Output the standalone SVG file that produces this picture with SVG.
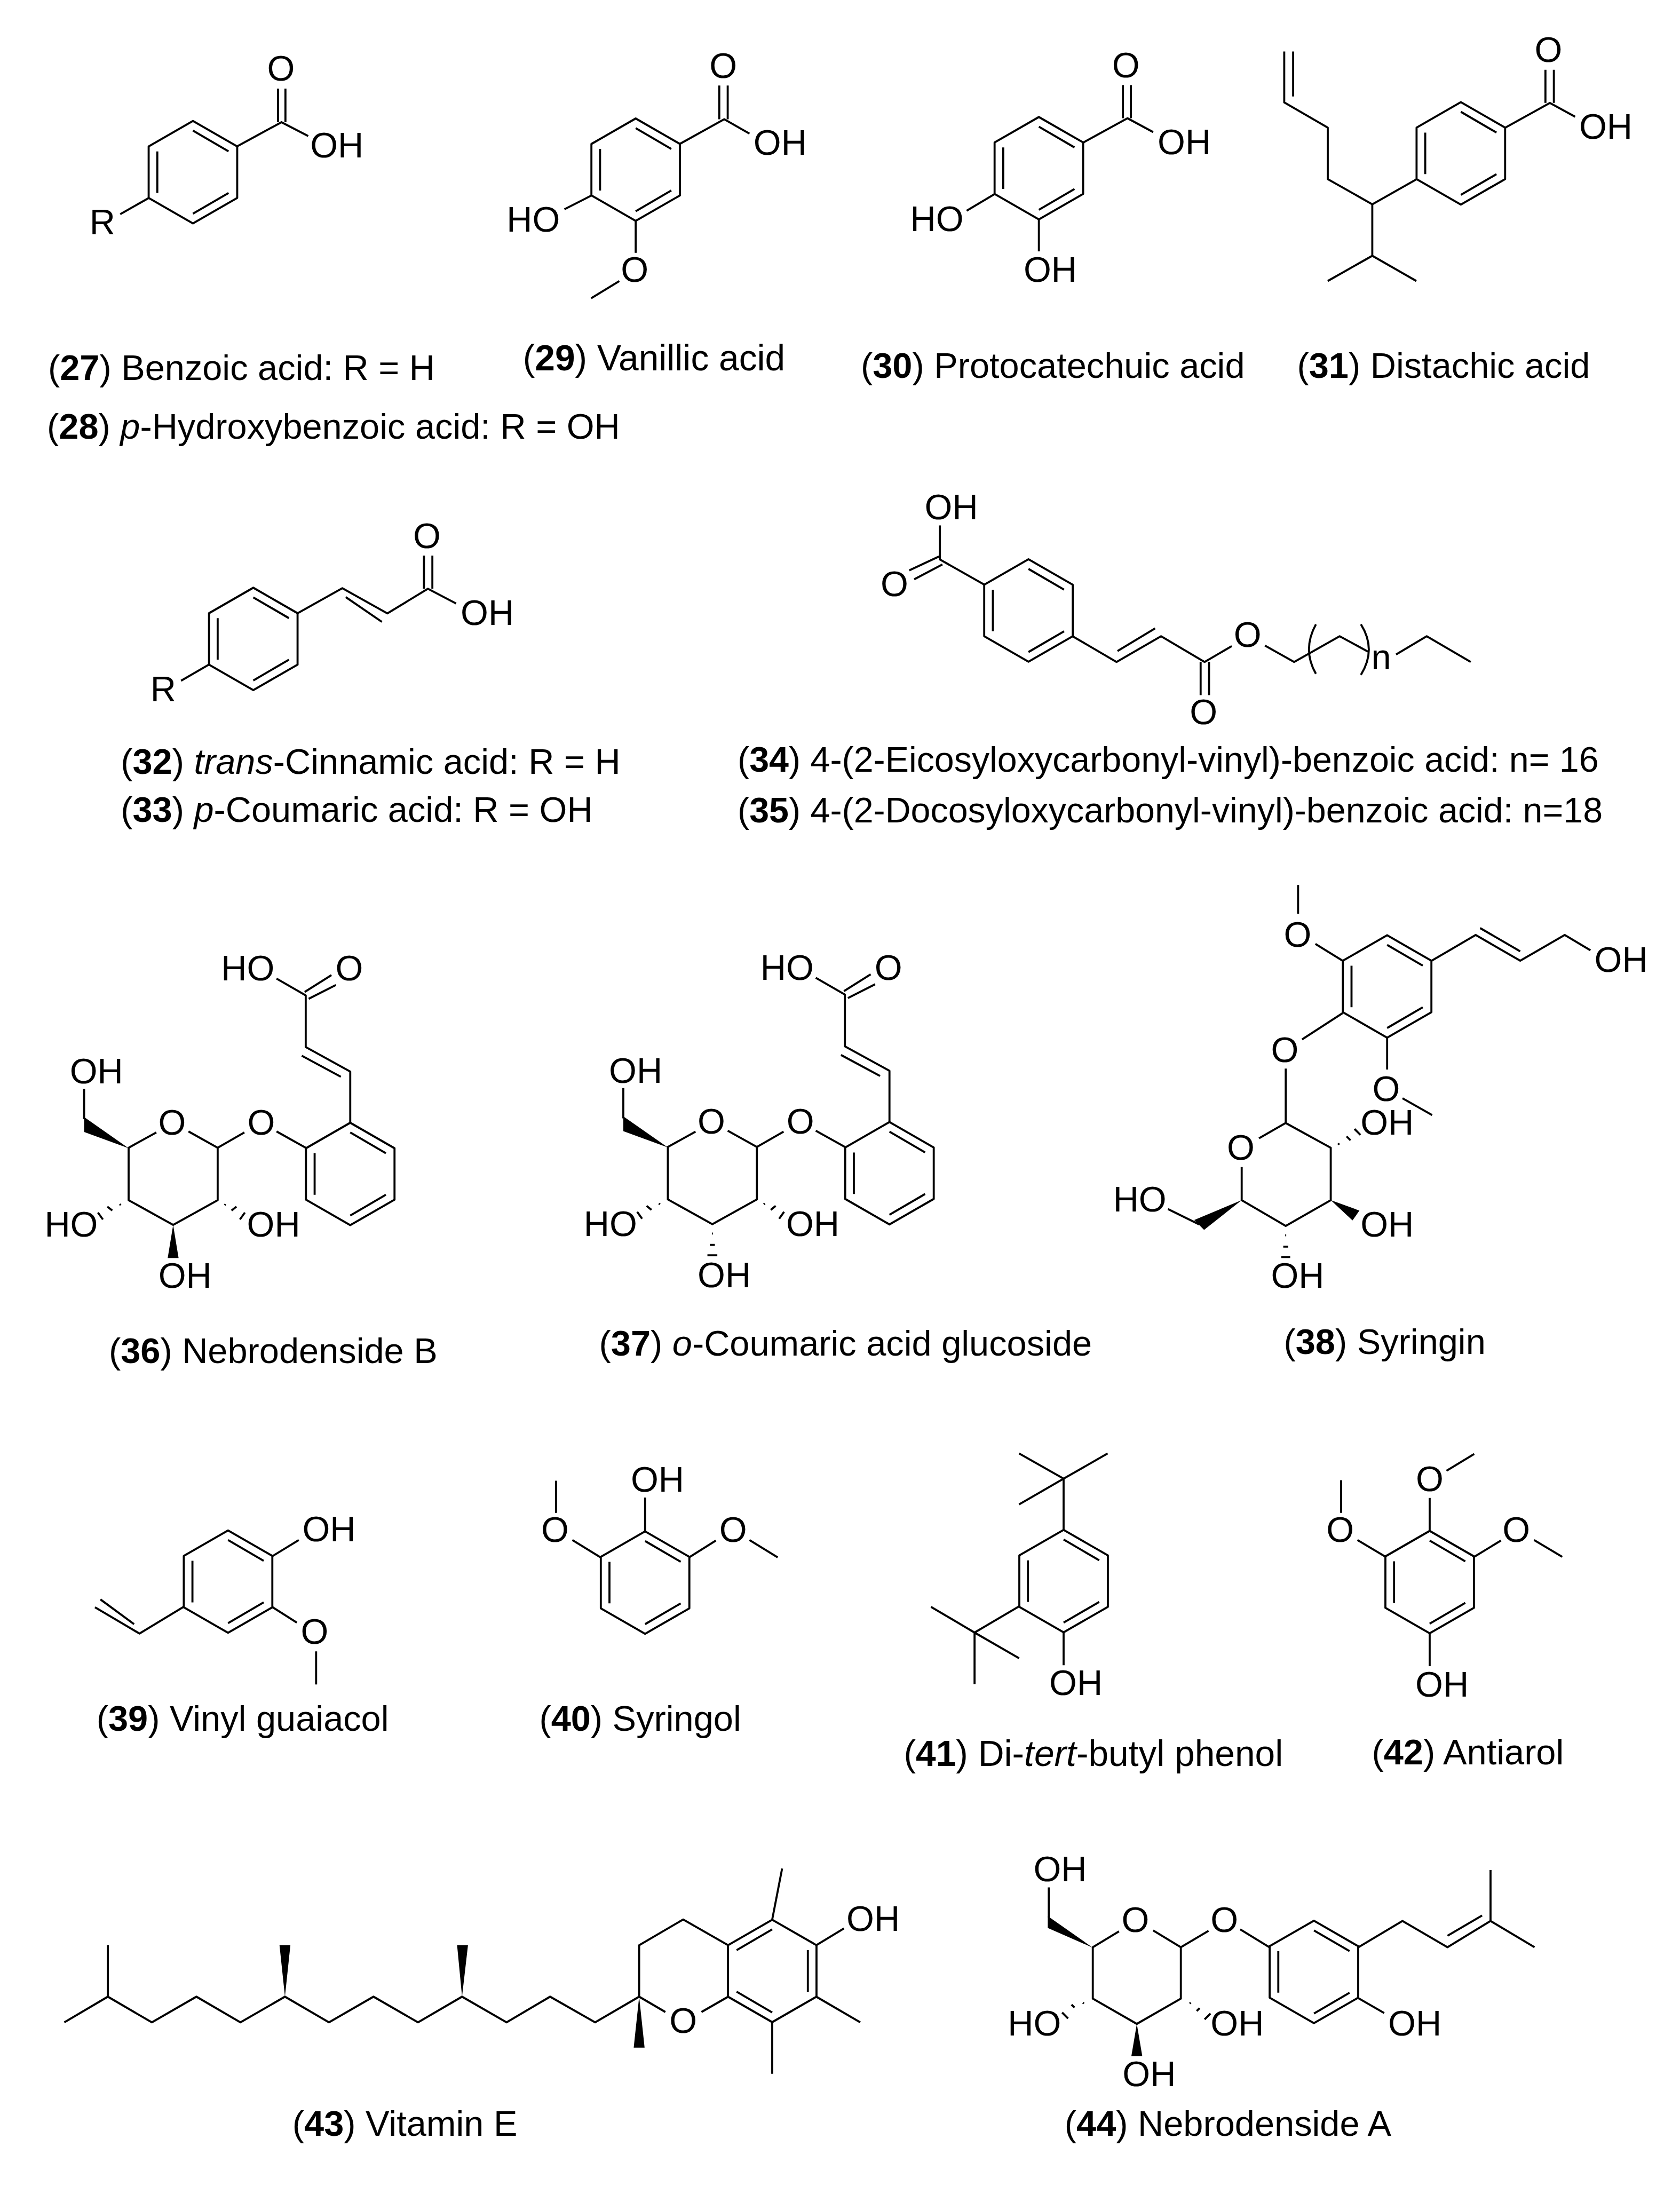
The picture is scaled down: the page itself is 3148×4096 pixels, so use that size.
<svg xmlns="http://www.w3.org/2000/svg" xmlns:xlink="http://www.w3.org/1999/xlink" width="3148" height="4096" viewBox="0 0 3148 4096">
<style>
.b{fill:none;stroke:#000;stroke-width:4.1;stroke-linejoin:round}
.w{fill:#000;stroke:none}
text{font-family:"Liberation Sans",Arial,sans-serif;font-size:72px;fill:#000}
.c{font-size:72px}
.s{font-size:71.6px}
.l{font-size:73px}
.m{text-anchor:middle}
.n{font-weight:bold}
.i{font-style:italic}
</style>
<defs>
<g id="ring1" class="b"><path d="M0-103.5L89.500-52V52L0 103.5L-89.500 52V-52Z"/><path d="M-72-42V42M0-84L72-42M72 42L0 84"/></g>
<g id="ring2" class="b"><path d="M0-103.5L89.500-52V52L0 103.5L-89.500 52V-52Z"/><path d="M72-42V42M0-84L-72-42M-72 42L0 84"/></g>
</defs>
<rect width="3148" height="4096" fill="#fff"/>
<g transform="scale(.92697)">

<g id="m27">
<use href="#ring1" x="390" y="348"/>
<path class="b" d="M479 296L569 247L623 275M562 179V247M577 179V247M301 400L243 433"/>
<text class="m" x="568" y="163">O</text><text x="627" y="318">OH</text><text x="181" y="474">R</text>
</g>
<g id="m29">
<use href="#ring1" x="1285" y="343"/>
<path class="b" d="M1374 291L1464 241L1515 270M1454 173V241M1471 173V241M1196 395L1141 423M1285 447V511M1252 568L1195 603"/>
<text class="m" x="1462" y="158">O</text><text x="1523" y="313">OH</text><text x="1024" y="468">HO</text><text class="m" x="1283" y="570">O</text>
</g>
<g id="m30">
<use href="#ring1" x="2100" y="340"/>
<path class="b" d="M2190 288L2279 239L2331 267M2270 172V239M2286 172V239M2011 392L1954 426M2100 443V508"/>
<text class="m" x="2276" y="156">O</text><text x="2340" y="312">OH</text><text x="1840" y="467">HO</text><text x="2069" y="570">OH</text>
</g>
<g id="m31">
<use href="#ring1" x="2953" y="310"/>
<path class="b" d="M3043 258L3133 208L3184 236M3124 141V208M3141 141V208M2864 362L2774 413L2684 362V258L2596 207V104M2614 104V195M2774 413V517L2684 568M2774 517L2863 568"/>
<text class="m" x="3130" y="125">O</text><text x="3192" y="281">OH</text>
</g>

<g id="m32">
<use href="#ring1" x="512" y="1291.5"/>
<path class="b" d="M601 1240L692 1189L783 1240L865 1190L922 1220M699 1207L772 1257M857 1123V1190M874 1123V1190M423 1343L366 1376"/>
<text class="m" x="863" y="1108">O</text><text x="931" y="1263">OH</text><text x="304" y="1418">R</text>
</g>
<g id="m34">
<use href="#ring1" x="2079" y="1234"/>
<path class="b" d="M1990 1182L1900 1131V1062M1838 1153L1898 1125M1848 1171L1905 1141M2168 1286L2257 1338L2347 1286L2435 1338L2490 1306M2259 1316L2335 1270M2427 1338V1405M2444 1338V1405M2557 1305L2616 1338L2708 1286L2765 1317M2822 1323L2884 1286L2973 1338M2660 1262Q2632 1313 2660 1362M2751 1262Q2783 1313 2751 1364"/>
<text x="1869" y="1050">OH</text><text class="m" x="1808" y="1205">O</text><text class="m" x="2433" y="1464">O</text><text class="m" x="2522" y="1308">O</text><text x="2772" y="1353">n</text>
</g>

<g id="m36">
<use href="#ring1" x="708" y="2373"/>
<path class="b" d="M316 2289L260 2320V2426L350 2476L440 2426V2320L381 2287M440 2320L494 2289M559 2287L618 2320M708 2271V2166L618 2116.500V2012L559 1978M610 2134L689 2176.500M616 2005L670 1971M624 2019L679 1991M170 2262V2201"/>
<path class="w" d="M260 2321L170 2288V2258ZM350 2476L361 2543H339Z"/>
<path class="b" d="M242 2434L244 2436M217 2439L227 2447M198 2451L208 2465M454 2436L456 2434M468 2447L478 2439M485 2465L495 2451"/>
<text class="m" x="348" y="2293">O</text><text class="m" x="528" y="2293">O</text><text class="m" x="706" y="1982">O</text><text x="447" y="1982">HO</text><text x="141" y="2190">OH</text><text x="90" y="2500">HO</text><text x="499" y="2500">OH</text><text x="320" y="2603">OH</text>
</g>
<g id="m37" transform="translate(1090 -1.500)">
<use href="#ring1" x="708" y="2373"/>
<path class="b" d="M316 2289L260 2320V2426L350 2476L440 2426V2320L381 2287M440 2320L494 2289M559 2287L618 2320M708 2271V2166L618 2116.500V2012L559 1978M610 2134L689 2176.500M616 2005L670 1971M624 2019L679 1991M170 2262V2201"/>
<path class="w" d="M260 2321L170 2288V2258Z"/>
<path class="b" d="M242 2434L244 2436M217 2439L227 2447M198 2451L208 2465M454 2436L456 2434M468 2447L478 2439M485 2465L495 2451M349 2495H351M345 2518H355M340 2539H360"/>
<text class="m" x="348" y="2293">O</text><text class="m" x="528" y="2293">O</text><text class="m" x="706" y="1982">O</text><text x="447" y="1982">HO</text><text x="141" y="2190">OH</text><text x="90" y="2500">HO</text><text x="499" y="2500">OH</text><text x="320" y="2603">OH</text>
</g>
<g id="m38">
<use href="#ring1" x="2804" y="1994"/>
<path class="b" d="M2894 1942L2983 1890L3073 1942L3163 1890L3215 1921M2992 1876L3073 1923M2714 1942L2659 1908M2624 1847V1789M2804 2098V2162M2835 2220L2895 2254M2714 2048L2632 2101M2599 2160V2270L2545 2301M2599 2270L2690 2320V2426L2599 2478L2510 2426V2359M2424 2475L2361 2444"/>
<path class="w" d="M2510 2426L2434 2486L2414 2466ZM2690 2426L2748 2447L2734 2467Z"/>
<path class="b" d="M2705 2311L2707 2314M2722 2297L2730 2305M2738 2282L2750 2294M2598 2497H2600M2594 2520H2604M2590 2541H2608"/>
<text class="m" x="2623" y="1914">O</text><text class="m" x="2802" y="2225">O</text><text class="m" x="2597" y="2147">O</text><text class="m" x="2508" y="2344">O</text><text x="3223" y="1965">OH</text><text x="2250" y="2449">HO</text><text x="2750" y="2294">OH</text><text x="2750" y="2500">OH</text><text x="2569" y="2603">OH</text>
</g>

<g id="m39">
<use href="#ring1" x="461" y="3197"/>
<path class="b" d="M550 3146L604 3113M550 3248L600 3280M639 3338V3405M371 3248L282 3302L192 3249M271 3283L203 3233"/>
<text x="611" y="3116">OH</text><text class="m" x="636" y="3323">O</text>
</g>
<g id="m40">
<use href="#ring1" x="1304" y="3199"/>
<path class="b" d="M1304 3096V3027M1214 3148L1157 3113M1124 3058V2993M1393 3148L1447 3114M1515 3113L1572 3148"/>
<text x="1275" y="3015">OH</text><text class="m" x="1122" y="3117">O</text><text class="m" x="1482" y="3117">O</text>
</g>
<g id="m41">
<use href="#ring1" x="2150" y="3196"/>
<path class="b" d="M2150 3093V2989L2060 2938M2150 2989L2239 2938M2150 2989L2060 3041M2060 3247L1970 3300L1882 3248M1970 3300L2060 3352M1970 3300V3404M2150 3300V3366"/>
<text x="2121" y="3426">OH</text>
</g>
<g id="m42">
<use href="#ring1" x="2890" y="3198"/>
<path class="b" d="M2890 3302V3368M2890 3095V3028M2924 2973L2980 2939M2801 3147L2744 3113M2711 3058V2992M2980 3147L3034 3114M3101 3113L3158 3147"/>
<text x="2861" y="3429">OH</text><text class="m" x="2890" y="3014">O</text><text class="m" x="2709" y="3117">O</text><text class="m" x="3065" y="3117">O</text>
</g>

<g id="m43">
<use href="#ring2" x="1561" y="3984"/>
<path class="b" d="M130 4088L218 4036L307 4088L397 4036L486 4088L576 4036L665 4088L755 4036L845 4088L934 4036L1024 4088L1112 4036L1203 4088L1292 4036V3932L1381 3880L1472 3932M218 4036V3932M1292 4036L1345 4067M1418 4067L1472 4036M1561 3880L1581 3777M1650 3932L1706 3898M1650 4036L1739 4088M1561 4088V4192"/>
<path class="w" d="M576 4036L565 3932H587ZM934 4036L924 3932H946ZM1292 4036L1303 4139H1281Z"/>
<text class="m" x="1381" y="4109">O</text><text x="1711" y="3903">OH</text>
</g>
<g id="m44">
<use href="#ring1" x="2656" y="3986"/>
<path class="b" d="M2262 3904L2209 3936V4040L2298 4091L2387 4040V3936L2331 3902M2387 3936L2443 3903M2507 3900L2566 3936M2746 3936L2835 3883L2926 3936L3013 3883V3780M3013 3883L3102 3936M2926 3913L2996 3872M2746 4039L2798 4069M2120 3876V3815"/>
<path class="w" d="M2209 3937L2118 3897V3873ZM2298 4091L2309 4156H2287Z"/>
<path class="b" d="M2189 4048L2191 4050M2166 4052L2172 4058M2147 4068L2159 4080M2405 4050L2407 4048M2419 4065L2425 4059M2435 4082L2447 4070"/>
<text class="m" x="2295" y="3905">O</text><text class="m" x="2475" y="3905">O</text><text x="2806" y="4114">OH</text><text x="2089" y="3803">OH</text><text x="2037" y="4114">HO</text><text x="2447" y="4114">OH</text><text x="2269" y="4217">OH</text>
</g>

<g id="captions">
<text class="c" x="97" y="768">(<tspan class="n">27</tspan>) Benzoic acid: R = H</text>
<text class="c" x="95" y="887">(<tspan class="n">28</tspan>) <tspan class="i">p</tspan>-Hydroxybenzoic acid: R = OH</text>
<text class="l" x="1057" y="749">(<tspan class="n">29</tspan>) Vanillic acid</text>
<text class="c" x="1740" y="764">(<tspan class="n">30</tspan>) Protocatechuic acid</text>
<text class="c" x="2622" y="764">(<tspan class="n">31</tspan>) Distachic acid</text>
<text class="c" x="244" y="1564">(<tspan class="n">32</tspan>) <tspan class="i">trans</tspan>-Cinnamic acid: R = H</text>
<text class="c" x="244" y="1661">(<tspan class="n">33</tspan>) <tspan class="i">p</tspan>-Coumaric acid: R = OH</text>
<text class="s" x="1491" y="1560">(<tspan class="n">34</tspan>) 4-(2-Eicosyloxycarbonyl-vinyl)-benzoic acid: n= 16</text>
<text class="s" x="1491" y="1662">(<tspan class="n">35</tspan>) 4-(2-Docosyloxycarbonyl-vinyl)-benzoic acid: n=18</text>
<text class="c" x="220" y="2755">(<tspan class="n">36</tspan>) Nebrodenside B</text>
<text class="c" x="1211" y="2740">(<tspan class="n">37</tspan>) <tspan class="i">o</tspan>-Coumaric acid glucoside</text>
<text class="c" x="2595" y="2737">(<tspan class="n">38</tspan>) Syringin</text>
<text class="c" x="195" y="3498">(<tspan class="n">39</tspan>) Vinyl guaiacol</text>
<text class="c" x="1090" y="3498">(<tspan class="n">40</tspan>) Syringol</text>
<text class="l" x="1827" y="3570">(<tspan class="n">41</tspan>) Di-<tspan class="i">tert</tspan>-butyl phenol</text>
<text class="c" x="2773" y="3566">(<tspan class="n">42</tspan>) Antiarol</text>
<text class="c" x="591" y="4317">(<tspan class="n">43</tspan>) Vitamin E</text>
<text class="c" x="2152" y="4317">(<tspan class="n">44</tspan>) Nebrodenside A</text>
</g>
</g>
</svg>
